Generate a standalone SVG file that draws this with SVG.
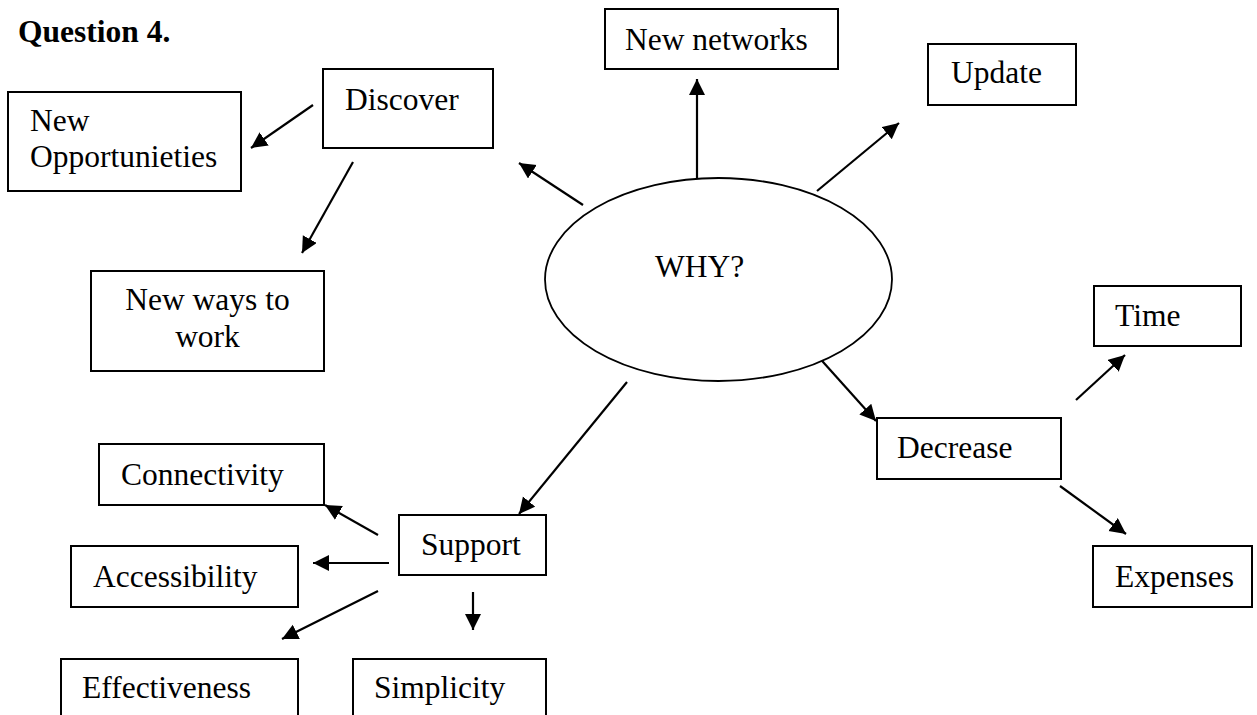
<svg xmlns="http://www.w3.org/2000/svg" width="1257" height="715" viewBox="0 0 1257 715">
  <style>
    .box { fill: #fff; stroke: #000; stroke-width: 2; }
    .oval { fill: #fff; stroke: #000; stroke-width: 1.8; }
    .lbl { font-family: "Liberation Serif", "Times New Roman", serif; font-size: 31.5px; fill: #000; }
    .title { font-family: "Liberation Serif", "Times New Roman", serif; font-size: 31.5px; font-weight: bold; fill: #000; }
    .arrow { stroke: #000; stroke-width: 2.2; fill: none; marker-end: url(#head); }
  </style>
  <defs>
    <marker id="head" markerUnits="userSpaceOnUse" markerWidth="17" markerHeight="17" refX="16" refY="8" orient="auto">
      <path d="M0,0 L16,8 L0,16 z" fill="#000"/>
    </marker>
  </defs>
  <rect width="1257" height="715" fill="#fff"/>

  <text class="title" x="18" y="42">Question 4.</text>

  <g id="connectors">
    <line class="arrow" x1="313" y1="105" x2="251" y2="148"/>
    <line class="arrow" x1="353" y1="162" x2="302" y2="253"/>
    <line class="arrow" x1="583" y1="205" x2="519" y2="163"/>
    <line class="arrow" x1="697" y1="178" x2="697" y2="79"/>
    <line class="arrow" x1="817" y1="191" x2="899" y2="123"/>
    <line class="arrow" x1="815" y1="353" x2="876" y2="421"/>
    <line class="arrow" x1="627" y1="382" x2="519" y2="514"/>
    <line class="arrow" x1="1076" y1="400" x2="1125" y2="355"/>
    <line class="arrow" x1="1060" y1="486" x2="1126" y2="534"/>
    <line class="arrow" x1="378" y1="535" x2="325" y2="505"/>
    <line class="arrow" x1="389" y1="563" x2="313" y2="563"/>
    <line class="arrow" x1="378" y1="591" x2="282" y2="639"/>
    <line class="arrow" x1="473" y1="592" x2="473" y2="630"/>
  </g>

  <g id="why">
    <ellipse class="oval" cx="718.5" cy="279.5" rx="173.5" ry="101.5"/>
    <text class="lbl" x="655" y="277">WHY?</text>
  </g>

  <g id="discover">
    <rect class="box" x="323" y="69" width="170" height="79"/>
    <text class="lbl" x="345" y="110">Discover</text>
  </g>

  <g id="new-opportunities">
    <rect class="box" x="8" y="92" width="233" height="99"/>
    <text class="lbl" x="30" y="131">New</text>
    <text class="lbl" x="30" y="167">Opportunieties</text>
  </g>

  <g id="new-ways">
    <rect class="box" x="91" y="271" width="233" height="100"/>
    <text class="lbl" x="207.5" y="310" text-anchor="middle">New ways to</text>
    <text class="lbl" x="207.5" y="347" text-anchor="middle">work</text>
  </g>

  <g id="new-networks">
    <rect class="box" x="605" y="9" width="233" height="60"/>
    <text class="lbl" x="625" y="50">New networks</text>
  </g>

  <g id="update">
    <rect class="box" x="928" y="44" width="148" height="61"/>
    <text class="lbl" x="951" y="83">Update</text>
  </g>

  <g id="time">
    <rect class="box" x="1094" y="286" width="147" height="60"/>
    <text class="lbl" x="1115" y="326">Time</text>
  </g>

  <g id="decrease">
    <rect class="box" x="877" y="418" width="184" height="61"/>
    <text class="lbl" x="897" y="458">Decrease</text>
  </g>

  <g id="expenses">
    <rect class="box" x="1093" y="546" width="159" height="61"/>
    <text class="lbl" x="1115" y="587">Expenses</text>
  </g>

  <g id="support">
    <rect class="box" x="399" y="515" width="147" height="60"/>
    <text class="lbl" x="421" y="555">Support</text>
  </g>

  <g id="connectivity">
    <rect class="box" x="99" y="444" width="225" height="61"/>
    <text class="lbl" x="121" y="485">Connectivity</text>
  </g>

  <g id="accessibility">
    <rect class="box" x="71" y="546" width="227" height="61"/>
    <text class="lbl" x="93" y="587">Accessibility</text>
  </g>

  <g id="effectiveness">
    <rect class="box" x="61" y="659" width="237" height="80"/>
    <text class="lbl" x="82" y="698">Effectiveness</text>
  </g>

  <g id="simplicity">
    <rect class="box" x="353" y="659" width="193" height="80"/>
    <text class="lbl" x="374" y="698">Simplicity</text>
  </g>
</svg>
